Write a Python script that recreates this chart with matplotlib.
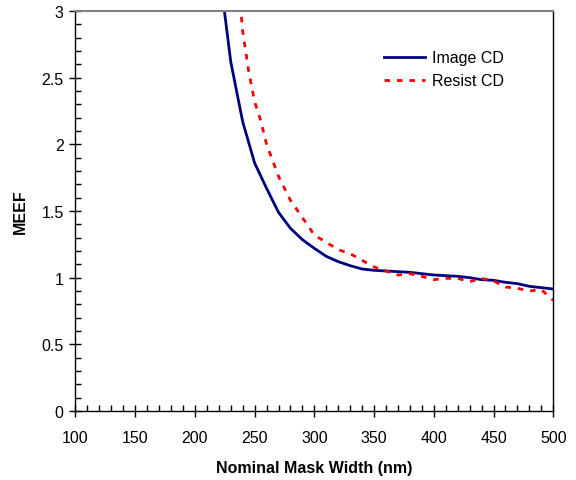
import matplotlib
matplotlib.use("Agg")
import matplotlib.pyplot as plt
from matplotlib.ticker import MultipleLocator

plt.rcParams['font.family'] = ['Liberation Sans', 'DejaVu Sans']

image_x = [224, 230, 240, 250, 260, 270, 280, 290, 300, 310, 320, 330, 340, 350,
           360, 370, 380, 390, 400, 410, 420, 430, 440, 450, 460, 470, 480, 490, 500]
image_y = [3.05, 2.62, 2.17, 1.86, 1.67, 1.49, 1.37, 1.285, 1.22, 1.16, 1.12, 1.09, 1.065, 1.055,
           1.05, 1.045, 1.04, 1.03, 1.02, 1.015, 1.01, 1.0, 0.985, 0.98, 0.965, 0.955, 0.935, 0.925, 0.915]

resist_x = [238, 240, 245, 250, 255, 260, 270, 280, 290, 300, 310, 320, 330, 340, 350,
            360, 370, 380, 390, 400, 410, 420, 430, 440, 450, 460, 470, 480, 490, 500]
resist_y = [3.05, 2.85, 2.55, 2.32, 2.18, 2.0, 1.76, 1.58, 1.45, 1.32, 1.265, 1.21, 1.18, 1.13, 1.08,
            1.05, 1.02, 1.03, 1.01, 0.985, 0.995, 0.995, 0.97, 0.995, 0.975, 0.93, 0.92, 0.90, 0.91, 0.83]

fig = plt.figure(figsize=(5.76, 4.81), dpi=100)
ax = fig.add_axes([0.131, 0.1435, 0.8295, 0.8315])

ax.plot(image_x, image_y, color='#000080', lw=2, label='Image CD')
ax.plot(resist_x, resist_y, color='#ff0000', lw=2, ls=(0, (2, 2.5)), label='Resist CD')

ax.set_xlim(100, 500)
ax.set_ylim(0, 3)
ax.xaxis.set_major_locator(MultipleLocator(50))
ax.xaxis.set_minor_locator(MultipleLocator(10))
ax.yaxis.set_minor_locator(MultipleLocator(0.1))
ax.set_yticks([0, 0.5, 1, 1.5, 2, 2.5, 3])
ax.set_yticklabels(['0', '0.5', '1', '1.5', '2', '2.5', '3'])

ax.tick_params(which='major', direction='inout', length=9, width=1, labelsize=11.5, pad=4)
ax.tick_params(axis='x', which='major', pad=9)
ax.tick_params(which='minor', direction='in', length=4, width=1)

ax.spines['top'].set_color('#808080')
ax.spines['top'].set_linewidth(1.5)
for s in ['left', 'bottom', 'right']:
    ax.spines[s].set_color('black')
    ax.spines[s].set_linewidth(1)

ax.set_xlabel('Nominal Mask Width (nm)', fontsize=11.5, fontweight='bold', labelpad=11)
ax.set_ylabel('MEEF', fontsize=11.5, fontweight='bold', labelpad=10)

ax.legend(loc='upper left', bbox_to_anchor=(0.645, 0.902), frameon=False, fontsize=11.5,
          handlelength=2.6, handletextpad=0.4, labelspacing=0.5, borderpad=0, borderaxespad=0)

fig.savefig('out.png', dpi=100)
